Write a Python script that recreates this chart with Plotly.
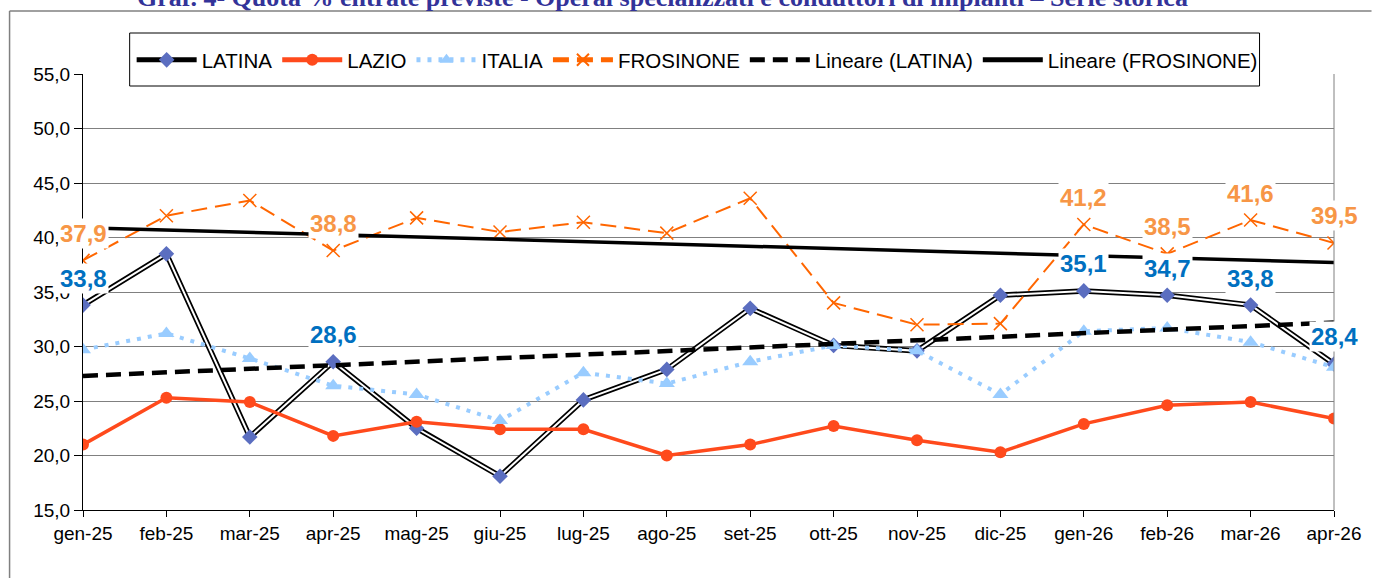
import plotly.graph_objects as go

months = ["gen-25", "feb-25", "mar-25", "apr-25", "mag-25", "giu-25", "lug-25", "ago-25",
          "set-25", "ott-25", "nov-25", "dic-25", "gen-26", "feb-26", "mar-26", "apr-26"]

latina = [33.8, 38.5, 21.7, 28.6, 22.5, 18.1, 25.1, 27.9, 33.5, 30.1, 29.6, 34.7, 35.1, 34.7, 33.8, 28.4]
lazio = [21.0, 25.3, 24.9, 21.8, 23.1, 22.4, 22.4, 20.0, 21.0, 22.7, 21.4, 20.3, 22.9, 24.6, 24.9, 23.4]
italia = [29.7, 31.2, 28.9, 26.4, 25.6, 23.2, 27.6, 26.6, 28.6, 30.1, 29.6, 25.6, 31.4, 31.7, 30.4, 28.1]
frosinone = [37.9, 42.0, 43.4, 38.8, 41.8, 40.5, 41.4, 40.4, 43.6, 34.0, 32.0, 32.1, 41.2, 38.5, 41.6, 39.5]

trend_x = ["gen-25", "apr-26"]
trend_latina = [27.3, 32.2]
trend_frosinone = [40.9, 37.7]

label_idx_latina = [0, 3, 12, 13, 14, 15]
label_idx_frosinone = [0, 3, 12, 13, 14, 15]

title_text = "Graf. 4- Quota % entrate previste - Operai specializzati e conduttori di impianti \u2013 Serie storica"


def fmt(v):
    return f"{v:.1f}".replace(".", ",")


fig = go.Figure()

# LATINA: double line (black outer, white inner) with diamond markers
fig.add_trace(go.Scatter(x=months, y=latina, mode="lines", name="LATINA_outer",
                         line=dict(color="black", width=5.5), showlegend=False,
                         hoverinfo="skip"))
fig.add_trace(go.Scatter(x=months, y=latina, mode="lines+markers", name="LATINA",
                         line=dict(color="white", width=2),
                         marker=dict(symbol="diamond", size=12, color="#5B6EC0"),
                         showlegend=False))
# legend proxy for LATINA
fig.add_trace(go.Scatter(x=[None], y=[None], mode="lines+markers", name="LATINA",
                         line=dict(color="black", width=5),
                         marker=dict(symbol="diamond", size=12, color="#5B6EC0")))

fig.add_trace(go.Scatter(x=months, y=lazio, mode="lines+markers", name="LAZIO",
                         line=dict(color="#FF4A1C", width=3.5),
                         marker=dict(symbol="circle", size=12, color="#FF4A1C")))

fig.add_trace(go.Scatter(x=months, y=italia, mode="lines+markers", name="ITALIA",
                         line=dict(color="#99CCFF", width=4, dash="4px,7px"),
                         marker=dict(symbol="triangle-up", size=14, color="#99CCFF")))

fig.add_trace(go.Scatter(x=months, y=frosinone, mode="lines+markers", name="FROSINONE",
                         line=dict(color="#FF6600", width=2, dash="16px,8px"),
                         marker=dict(symbol="x-thin-open", size=13,
                                     line=dict(color="#FF6600", width=1.5))))

fig.add_trace(go.Scatter(x=trend_x, y=trend_latina, mode="lines", name="Lineare (LATINA)",
                         line=dict(color="black", width=4.5, dash="15px,8px")))
fig.add_trace(go.Scatter(x=trend_x, y=trend_frosinone, mode="lines", name="Lineare (FROSINONE)",
                         line=dict(color="black", width=3.5)))

annotations = []
for i in label_idx_frosinone:
    annotations.append(dict(x=months[i], y=frosinone[i], text=fmt(frosinone[i]),
                            showarrow=False, yshift=27, bgcolor="white", borderpad=1,
                            font=dict(family="Arial", size=24, color="#F79646", weight="bold")))
for i in label_idx_latina:
    annotations.append(dict(x=months[i], y=latina[i], text=fmt(latina[i]),
                            showarrow=False, yshift=27, bgcolor="white", borderpad=1,
                            font=dict(family="Arial", size=24, color="#0070C0", weight="bold")))

annotations.append(dict(x=0.4635, xref="paper", y=1.138, yref="paper", yanchor="bottom",
                        xanchor="center", showarrow=False, text=title_text,
                        font=dict(family="Liberation Serif", size=26, color="#333399",
                                  weight="bold")))

shapes = [
    dict(type="line", xref="paper", yref="paper", x0=-0.0587, x1=1.03, y0=1.1445, y1=1.1445,
         line=dict(color="#808080", width=1.5)),
    dict(type="line", xref="paper", yref="paper", x0=-0.0587, x1=-0.0587, y0=1.1445, y1=-0.16,
         line=dict(color="#808080", width=1.5)),
    dict(type="line", xref="paper", yref="paper", x0=1, x1=1, y0=0, y1=1,
         line=dict(color="#808080", width=1)),
    # legend frame
    dict(type="rect", xref="paper", yref="paper", layer="above",
         x0=(130 - 83) / 1260, x1=(1268 - 83) / 1260,
         y0=(510 - 86) / 436, y1=(510 - 33) / 436,
         fillcolor="white", line=dict(color="black", width=1)),
]

fig.update_layout(
    width=1373, height=578,
    margin=dict(l=83, r=30, t=74, b=68),
    paper_bgcolor="white", plot_bgcolor="white",
    separators=",.",
    font=dict(family="Arial", size=19, color="black"),
    showlegend=True,
    legend=dict(orientation="h", x=(132 - 83) / 1260, xanchor="left",
                y=(510 - 60) / 436, yanchor="middle",
                bgcolor="rgba(0,0,0,0)", borderwidth=0,
                font=dict(family="Arial", size=20.5, color="black"),
                itemwidth=60, itemsizing="constant"),
    annotations=annotations,
    shapes=shapes,
    xaxis=dict(type="category", categoryorder="array", categoryarray=months,
               range=[0, 15], showgrid=False, showline=True, linecolor="black",
               linewidth=1, ticks="outside", ticklen=6, tickcolor="black",
               tickfont=dict(size=19), zeroline=False),
    yaxis=dict(range=[15, 55], dtick=5, tick0=15, tickformat=".1f", showgrid=True,
               gridcolor="#808080", gridwidth=1, showline=True, linecolor="black",
               linewidth=1, ticks="outside", ticklen=8, tickcolor="black",
               tickfont=dict(size=19), zeroline=False),
)

fig.write_html("out.html", config={"displayModeBar": False},
               post_script="document.body.style.margin='0';document.body.style.overflow='hidden';")
